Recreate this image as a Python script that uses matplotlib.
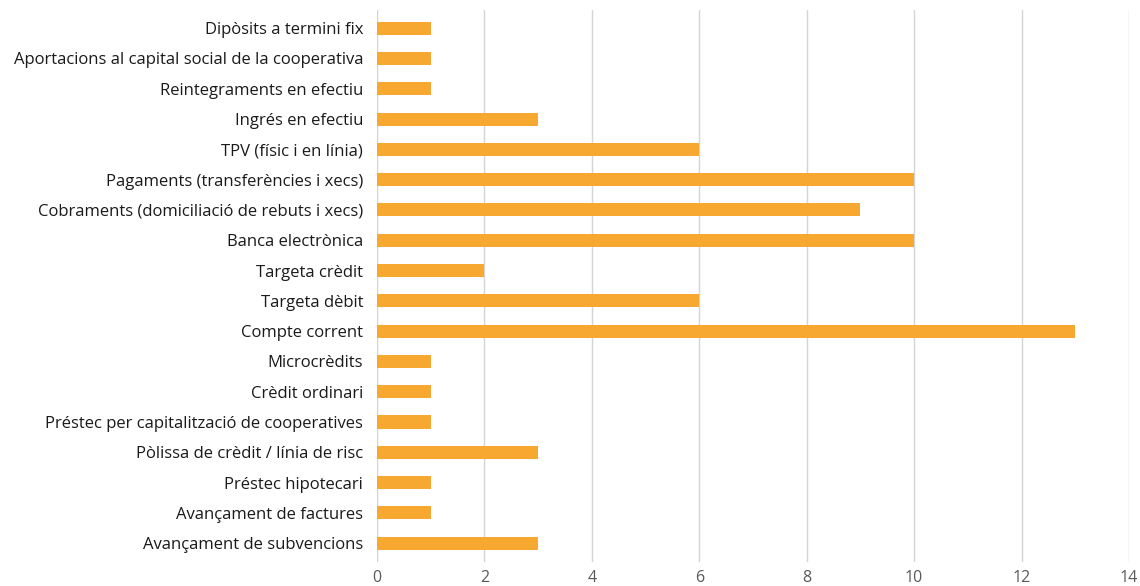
import matplotlib
matplotlib.use("Agg")
import matplotlib.pyplot as plt

categories = [
    "Dipòsits a termini fix",
    "Aportacions al capital social de la cooperativa",
    "Reintegraments en efectiu",
    "Ingrés en efectiu",
    "TPV (físic i en línia)",
    "Pagaments (transferències i xecs)",
    "Cobraments (domiciliació de rebuts i xecs)",
    "Banca electrònica",
    "Targeta crèdit",
    "Targeta dèbit",
    "Compte corrent",
    "Microcrèdits",
    "Crèdit ordinari",
    "Préstec per capitalització de cooperatives",
    "Pòlissa de crèdit / línia de risc",
    "Préstec hipotecari",
    "Avançament de factures",
    "Avançament de subvencions",
]
values = [1, 1, 1, 3, 6, 10, 9, 10, 2, 6, 13, 1, 1, 1, 3, 1, 1, 3]
xticks = [0, 2, 4, 6, 8, 10, 12, 14]

plt.rcParams['font.family'] = ['Open Sans', 'DejaVu Sans']

fig = plt.figure(figsize=(11.4, 5.86), dpi=100)
ax = fig.add_axes([0.3307, 0.041, 0.6596, 0.942])

pos = list(range(len(categories)))
ax.barh(pos, values, height=0.43, color="#F6A830", zorder=3)
ax.set_yticks(pos)
ax.set_yticklabels(categories, fontsize=12, color="#1a1a1a")
ax.set_ylim(len(categories) - 1 + 0.62, -0.6)
ax.set_xlim(0, 14)
ax.set_xticks(xticks)
ax.set_xticklabels([str(t) for t in xticks], fontsize=11.5, color="#595959")
ax.tick_params(axis='both', length=0)
ax.tick_params(axis='x', pad=6)
ax.tick_params(axis='y', pad=10)
ax.grid(axis='x', color="#d4d4d4", linewidth=1.0, zorder=0)
for s in ax.spines.values():
    s.set_visible(False)
ax.axvline(0, color="#d4d4d4", linewidth=1.5, zorder=1)

fig.savefig("out.png", dpi=100)
